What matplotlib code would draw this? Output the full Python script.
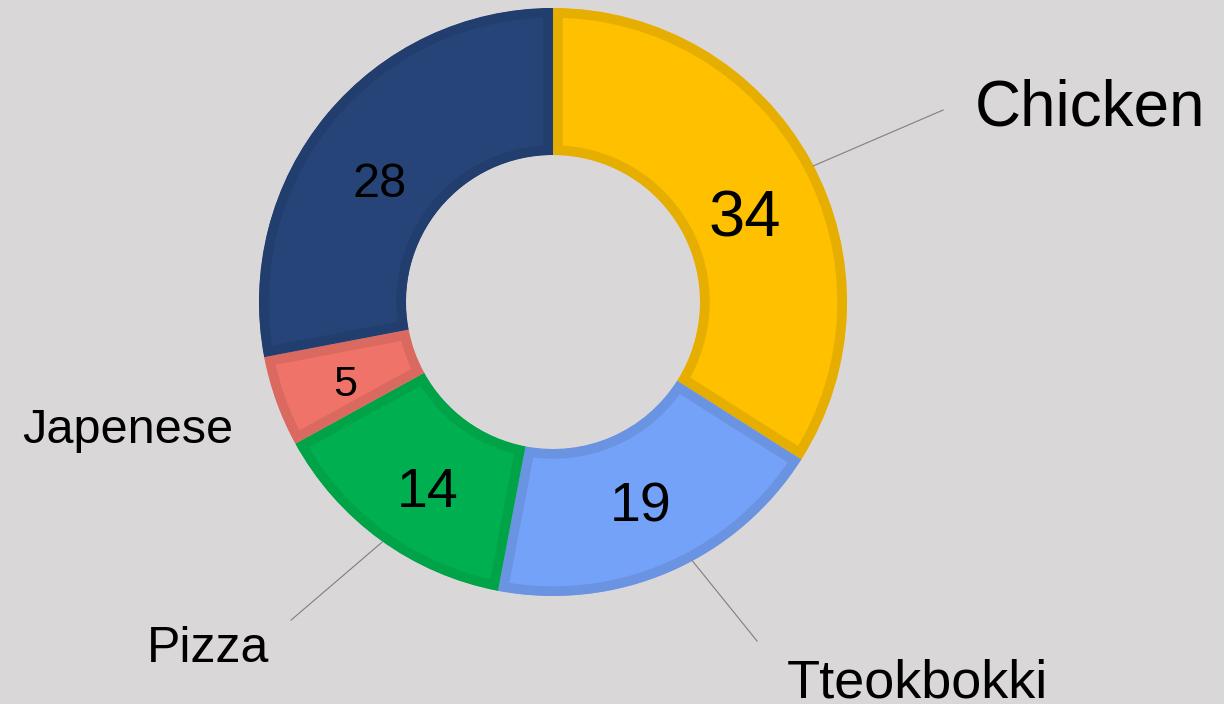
import matplotlib.pyplot as plt
import numpy as np

# données
labels = ["Chicken", "Tteokbokki", "Pizza", "Japenese", ""]
values = [34, 19, 14, 5, 28]

colors = ["#FFC000", "#75A2F9", "#00B050", "#F07369", "#264478"]
edges = ["#E6AE00", "#6A93E2", "#00A347", "#DA6A60", "#223E6E"]
value_sizes = [47, 40, 40, 31, 35]
# décalage angulaire (degrés) et rayon des valeurs
value_shift = [-3.9, 0.3, 2.0, 0.8, 4.4]
value_r = [0.72, 0.743, 0.76, 0.755, 0.72]

# position du texte (coin gauche, ligne de base), fin du trait, taille
label_pos = [(1.435, 0.602), (0.796, -1.344), (-1.381, -1.224), (-1.806, -0.480), None]
line_end = [(1.327, 0.653), (0.694, -1.153), (-0.891, -1.082), None, None]
line_ang = [27.6, -61.7, -125.4, None, None]
label_sizes = [46, 39, 36, 35, 0]

bg = "#D9D7D8"
plt.rcParams['font.family'] = ['Liberation Sans', 'DejaVu Sans']

fig = plt.figure(figsize=(12.24, 7.04), dpi=100, facecolor=bg)
ax = fig.add_axes([0, 0, 1, 1])
ax.set_facecolor(bg)

wedges, _ = ax.pie(values, colors=colors, startangle=90, counterclock=False,
                   radius=1, wedgeprops=dict(width=0.5))

# bordure intérieure : trait épais coupé par la forme elle-même
for w, ec in zip(wedges, edges):
    w.set_edgecolor(ec)
    w.set_linewidth(14)
    w.set_clip_on(True)
    w.set_clip_path(w)

# valeurs dans l'anneau
total = sum(values)
cum = np.cumsum([0] + values)
for i, v in enumerate(values):
    mid = np.deg2rad(90 - 360 * (cum[i] + v / 2) / total + value_shift[i])
    ax.annotate(str(v), (value_r[i] * np.cos(mid), value_r[i] * np.sin(mid)),
                xytext=(0, -0.358 * value_sizes[i]), textcoords='offset points',
                ha='center', va='baseline', fontsize=value_sizes[i], color='black')

# étiquettes et traits
for i, lab in enumerate(labels):
    if label_pos[i] is None:
        continue
    if line_end[i] is not None:
        a = np.deg2rad(line_ang[i])
        ax.plot([np.cos(a), line_end[i][0]], [np.sin(a), line_end[i][1]],
                color='#7F7F7F', lw=0.8)
    ax.text(label_pos[i][0], label_pos[i][1], lab, ha='left', va='baseline',
            fontsize=label_sizes[i], color='black')

ax.set_xlim(-553 / 294, (1224 - 553) / 294)
ax.set_ylim(-(704 - 302) / 294, 302 / 294)
ax.set_aspect('auto')
ax.axis('off')

fig.savefig("out.png", dpi=100, facecolor=bg)
